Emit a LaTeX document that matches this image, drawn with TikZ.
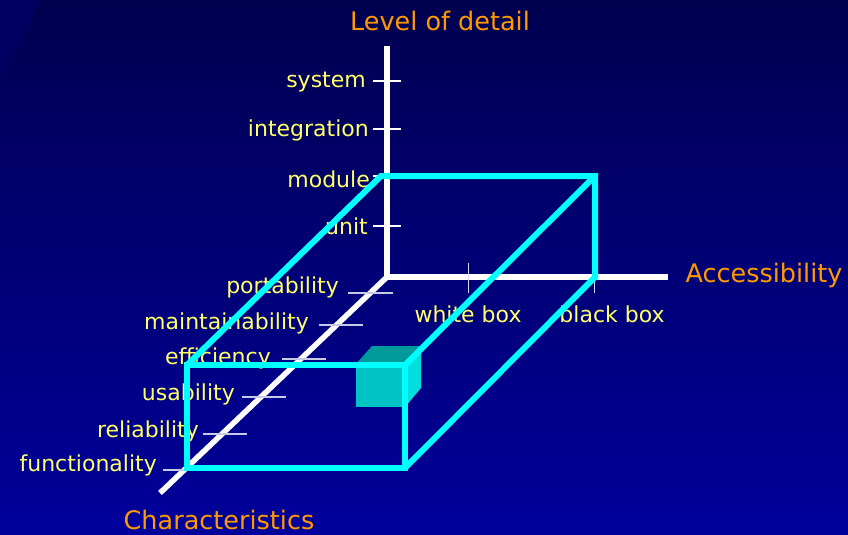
\documentclass[tikz,border=0pt]{standalone}
\usepackage{fontspec}
\setmainfont{DejaVu Sans}
\begin{document}
\begin{tikzpicture}[x=1pt,y=-1pt,
  ylabel/.style={text=labyellow,font=\fontsize{22}{26}\selectfont,inner sep=0pt},
  olabel/.style={text=laborange,font=\fontsize{25.5}{30}\selectfont,inner sep=0pt},
  axisline/.style={draw=white,line width=5.5pt},
  vtick/.style={draw=white,line width=1.5pt},
  dtick/.style={draw=tickgray,line width=1.5pt},
  htick/.style={draw=white!85!blue,line width=1pt},
  boxline/.style={draw=boxcyan,line width=6pt,line join=miter}]
\definecolor{labyellow}{HTML}{FFFF66}
\definecolor{laborange}{HTML}{FF9900}
\definecolor{tickgray}{HTML}{C8C8E8}
\definecolor{boxcyan}{HTML}{00FFFF}
\definecolor{bgtop}{HTML}{000050}
\definecolor{bgbot}{HTML}{00009C}
\definecolor{cubefront}{HTML}{00C4C4}
\definecolor{cubetop}{HTML}{009A9A}
\definecolor{cuberight}{HTML}{00DEDE}
\useasboundingbox (0,0) rectangle (848,535);
% background
\shade[top color=bgtop,bottom color=bgbot] (0,0) rectangle (848,535);
\fill[bgtop!75!bgbot] (0,0) -- (40,0) -- (0,78) -- cycle;
% labels
\node[ylabel,anchor=east] (lsystem) at (366,82) {system};
\node[ylabel,anchor=east] (linteg) at (369,130) {integration};
\node[ylabel,anchor=east] (lmodule) at (370,179) {module};
\node[ylabel,anchor=east] (lunit) at (368,226) {unit};
\node[ylabel,anchor=east] (lport) at (339,287) {portability};
\node[ylabel,anchor=east] (lmaint) at (309,323) {maintainability};
\node[ylabel,anchor=east] (leff) at (271,358) {efficiency};
\node[ylabel,anchor=east] (lusab) at (235,394) {usability};
\node[ylabel,anchor=east] (lrel) at (199,431) {reliability};
\node[ylabel,anchor=east] (lfunc) at (157,465) {functionality};
\node[ylabel] (lwhite) at (468,314) {white box};
\node[ylabel] (lblack) at (612,314) {black box};
\node[olabel] (llevel) at (440,21) {Level of detail};
\node[olabel] (lacc) at (764,275) {Accessibility};
\node[olabel] (lchar) at (219,520) {Characteristics};
% small cube
\fill[cubetop] (356,364) -- (372,346) -- (421,346) -- (405,364) -- cycle;
\fill[cuberight] (405,364) -- (421,346) -- (421,388) -- (405,407) -- cycle;
\fill[cubefront] (356,364) rectangle (405,407);
% axes
\coordinate (O) at (387,277);
\coordinate (Ztop) at (387,46);
\coordinate (Xend) at (668,277);
\coordinate (Yend) at (160,493);
\draw[axisline] (Ztop) -- (O) -- (Xend);
\draw[axisline] (O) -- (Yend);
% ticks on vertical axis
\foreach \yy/\nm in {81/ts,129/ti,176/tm,226/tu}{
  \coordinate (\nm a) at (373,\yy); \coordinate (\nm b) at (401,\yy);
  \draw[vtick] (\nm a) -- (\nm b);}
% ticks on horizontal axis
\coordinate (twa) at (468,263); \coordinate (twb) at (468,293);
\draw[htick] (twa) -- (twb);
\coordinate (tba) at (594,263); \coordinate (tbb) at (594,293);
\draw[htick] (tba) -- (tbb);
% ticks on diagonal axis
\foreach \yy/\xa/\xb/\nm in {293/348/393/dp,325/319/363/dm,359/282/326/de,397/242/286/du,434/203/247/dr,470/163/186/df}{
  \coordinate (\nm a) at (\xa,\yy); \coordinate (\nm b) at (\xb,\yy);
  \draw[dtick] (\nm a) -- (\nm b);}
% cyan box
\coordinate (FTL) at (187,365);
\coordinate (FTR) at (405,365);
\coordinate (FBR) at (405,468);
\coordinate (FBL) at (187,468);
\coordinate (BTL) at (381,176);
\coordinate (BTR) at (595,176);
\coordinate (BBR) at (595,277);
\draw[boxline] (FTL) -- (FTR) -- (FBR) -- (FBL) -- cycle;
\draw[boxline] (FTL) -- (BTL) -- (BTR) -- (BBR) -- (FBR);
\draw[boxline] (FTR) -- (BTR);
\end{tikzpicture}
\end{document}
